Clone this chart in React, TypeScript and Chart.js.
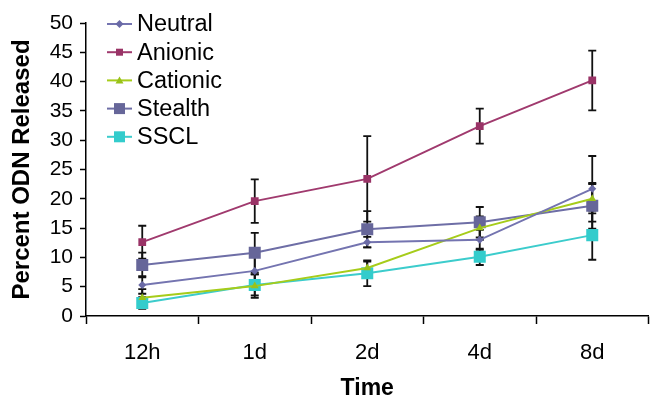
import React, { useEffect, useRef } from "react";
import { Chart, registerables } from "chart.js";

Chart.register(...registerables);

const categories = ["12h", "1d", "2d", "4d", "8d"];
const seriesNames = ["Neutral", "Anionic", "Cationic", "Stealth", "SSCL"];
const neutral = [5.3, 7.7, 12.6, 13.0, 21.7];
const neutralErr = [1.5, 2.5, 0.9, 1.7, 5.6];
const anionic = [12.6, 19.6, 23.4, 32.4, 40.2];
const anionicErr = [2.8, 3.7, 7.3, 3.0, 5.1];
const cationic = [3.1, 5.1, 8.2, 15.0, 20.0];
const cationicErr = [1.5, 2.0, 1.1, 2.0, 2.5];
const stealth = [8.7, 10.8, 14.8, 16.0, 18.8];
const stealthErr = [2.1, 3.4, 3.1, 2.6, 3.9];
const sscl = [2.2, 5.3, 7.3, 10.1, 13.8];
const ssclErr = [1.0, 1.8, 2.2, 1.4, 4.2];
const yTicks = { min: 0, max: 50, step: 5 };

const FONT = "'Liberation Sans', Arial, sans-serif";

type Style = { line: string; fill: string; shape: string; radius: number; legendSize: number };
const styles: Style[] = [
  { line: "#7474B0", fill: "#6A6AA6", shape: "rectRot", radius: 4, legendSize: 4 },
  { line: "#A03A6E", fill: "#993366", shape: "rect", radius: 5.5, legendSize: 3.5 },
  { line: "#A6CC1A", fill: "#99C21A", shape: "triangle", radius: 4.5, legendSize: 4 },
  { line: "#6E6EA6", fill: "#666699", shape: "rect", radius: 8.5, legendSize: 5.5 },
  { line: "#3CCCCC", fill: "#33CCCC", shape: "rect", radius: 8.5, legendSize: 5.5 },
];

const values = [neutral, anionic, cationic, stealth, sscl];
const errors = [neutralErr, anionicErr, cationicErr, stealthErr, ssclErr];

function drawMarker(ctx: CanvasRenderingContext2D, shape: string, x: number, y: number, s: number, color: string) {
  ctx.fillStyle = color;
  ctx.beginPath();
  if (shape === "rect") {
    ctx.rect(x - s, y - s, 2 * s, 2 * s);
  } else if (shape === "rectRot") {
    ctx.moveTo(x, y - s);
    ctx.lineTo(x + s, y);
    ctx.lineTo(x, y + s);
    ctx.lineTo(x - s, y);
    ctx.closePath();
  } else {
    ctx.moveTo(x, y - s);
    ctx.lineTo(x + s, y + s * 0.8);
    ctx.lineTo(x - s, y + s * 0.8);
    ctx.closePath();
  }
  ctx.fill();
}

const errorBarPlugin = {
  id: "errorBars",
  beforeDatasetsDraw(chart: any) {
    const ctx = chart.ctx;
    const yScale = chart.scales.y;
    ctx.save();
    ctx.strokeStyle = "#111";
    ctx.lineWidth = 1.8;
    chart.data.datasets.forEach((ds: any, i: number) => {
      const meta = chart.getDatasetMeta(i);
      ds.data.forEach((v: number, j: number) => {
        const e = ds.errors[j];
        const x = meta.data[j].x;
        const yt = yScale.getPixelForValue(v + e);
        const yb = yScale.getPixelForValue(Math.max(0, v - e));
        ctx.beginPath();
        ctx.moveTo(x, yt);
        ctx.lineTo(x, yb);
        ctx.moveTo(x - 4, yt);
        ctx.lineTo(x + 4, yt);
        ctx.moveTo(x - 4, yb);
        ctx.lineTo(x + 4, yb);
        ctx.stroke();
      });
    });
    ctx.restore();
  },
};

const legendPlugin = {
  id: "insideLegend",
  afterDraw(chart: any) {
    const ctx = chart.ctx;
    const area = chart.chartArea;
    const x0 = area.left + 21;
    const y0 = area.top + 1;
    ctx.save();
    ctx.font = `23.5px ${FONT}`;
    ctx.textBaseline = "middle";
    ctx.textAlign = "left";
    seriesNames.forEach((name, i) => {
      const y = y0 + i * 28.2;
      const st = styles[i];
      ctx.strokeStyle = st.line;
      ctx.lineWidth = 2;
      ctx.beginPath();
      ctx.moveTo(x0, y);
      ctx.lineTo(x0 + 25, y);
      ctx.stroke();
      drawMarker(ctx, st.shape, x0 + 12.5, y, st.legendSize, st.fill);
      ctx.fillStyle = "#000";
      ctx.fillText(name, x0 + 30, y + 1);
    });
    ctx.restore();
  },
};

export default function App() {
  const ref = useRef<HTMLCanvasElement | null>(null);

  useEffect(() => {
    if (!ref.current) return;
    const chart = new Chart(ref.current, {
      type: "line",
      data: {
        labels: categories,
        datasets: seriesNames.map((name, i) => ({
          label: name,
          data: values[i],
          errors: errors[i],
          borderColor: styles[i].line,
          backgroundColor: styles[i].fill,
          pointBackgroundColor: styles[i].fill,
          pointBorderColor: styles[i].fill,
          pointBorderWidth: 0,
          pointStyle: styles[i].shape as any,
          pointRadius: styles[i].radius,
          borderWidth: 2,
          tension: 0,
        })) as any,
      },
      options: {
        animation: false,
        responsive: false,
        devicePixelRatio: 1,
        layout: { padding: { top: 23, right: 0, bottom: 0, left: 0 } },
        plugins: {
          legend: { display: false },
          tooltip: { enabled: false },
        },
        scales: {
          x: {
            type: "category",
            offset: true,
            grid: {
              offset: true,
              drawOnChartArea: false,
              drawTicks: true,
              tickLength: 8,
              tickColor: "#000",
              tickWidth: 1.5,
            },
            border: { display: true, color: "#000", width: 1.5 },
            ticks: {
              color: "#000",
              font: { family: FONT, size: 22 },
              padding: 16,
            },
            title: {
              display: true,
              text: "Time",
              color: "#000",
              font: { family: FONT, size: 23, weight: "bold", lineHeight: 0.55 },
              padding: { top: 0, bottom: 0 },
            },
            afterFit(scale: any) {
              scale.height = 79;
            },
          },
          y: {
            min: yTicks.min,
            max: yTicks.max,
            ticks: {
              stepSize: yTicks.step,
              color: "#000",
              font: { family: FONT, size: 21 },
              padding: 7,
            },
            grid: {
              drawOnChartArea: false,
              drawTicks: true,
              tickLength: 6,
              tickColor: "#000",
              tickWidth: 1.5,
            },
            border: { display: true, color: "#000", width: 1.5 },
            title: {
              display: true,
              text: "Percent ODN Released",
              color: "#000",
              font: { family: FONT, size: 24, weight: "bold", lineHeight: 1 },
              padding: { top: 10, bottom: 0 },
            },
            afterFit(scale: any) {
              scale.width = 86;
            },
          },
        },
      } as any,
      plugins: [errorBarPlugin, legendPlugin],
    });
    return () => chart.destroy();
  }, []);

  return (
    <div style={{ position: "absolute", left: 0, top: 0, width: 657, height: 395, background: "#fff" }}>
      <canvas ref={ref} width={657} height={395} />
    </div>
  );
}
